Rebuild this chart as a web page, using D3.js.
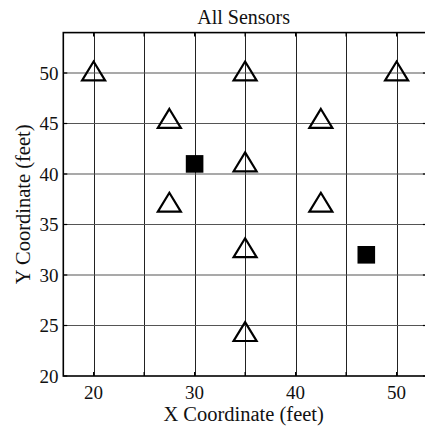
<!DOCTYPE html>
<html>
<head>
<meta charset="utf-8">
<script src="https://cdn.jsdelivr.net/npm/d3@7"></script>
<style>
  html, body { margin: 0; padding: 0; background: #fff; }
  svg { display: block; }
  text { font-family: "Liberation Serif", "DejaVu Serif", serif; fill: #111; }
</style>
</head>
<body>
<svg id="chart" width="425" height="433"></svg>
<script>
// ---- data ----
const triangleX = [20, 35, 50, 27.5, 42.5, 35, 27.5, 42.5, 35, 35];
const triangleY = [50, 50, 50, 45.3, 45.3, 41, 37, 37, 32.5, 24.2];
const squareX = [30, 47];
const squareY = [41, 32];
const xGridTicks = [20, 25, 30, 35, 40, 45, 50];
const xTickLabels = [20, 30, 40, 50];
const yTicks = [20, 25, 30, 35, 40, 45, 50];
const titleText = "All Sensors";
const xLabelText = "X Coordinate (feet)";
const yLabelText = "Y Coordinate (feet)";

// ---- layout ----
const svg = d3.select("#chart");
const pL = 63.3, pR = 426.9, pT = 32.6, pB = 376;
const x = d3.scaleLinear().domain([17, 53]).range([pL, pR]);
const y = d3.scaleLinear().domain([20, 54]).range([pB, pT]);

// grid
const grid = svg.append("g");
grid.selectAll("line.vg").data(xGridTicks).join("line")
  .attr("x1", d => Math.round(x(d)) + 0.5).attr("x2", d => Math.round(x(d)) + 0.5)
  .attr("y1", pT).attr("y2", pB)
  .attr("stroke", "#222").attr("stroke-width", 1);
grid.selectAll("line.hg").data(yTicks.filter(d => d > 20)).join("line")
  .attr("x1", pL).attr("x2", pR)
  .attr("y1", d => y(d)).attr("y2", d => y(d))
  .attr("stroke", "#555").attr("stroke-width", 1.2);

// frame
svg.append("rect")
  .attr("x", pL).attr("y", pT).attr("width", pR - pL).attr("height", pB - pT)
  .attr("fill", "none").attr("stroke", "#000").attr("stroke-width", 1.6);

// inward ticks
const tl = 4;
const ticks = svg.append("g").attr("stroke", "#000").attr("stroke-width", 1.2);
xGridTicks.forEach(d => {
  ticks.append("line").attr("x1", x(d)).attr("x2", x(d)).attr("y1", pB).attr("y2", pB - tl);
  ticks.append("line").attr("x1", x(d)).attr("x2", x(d)).attr("y1", pT).attr("y2", pT + tl);
});
yTicks.forEach(d => {
  ticks.append("line").attr("x1", pL).attr("x2", pL + tl).attr("y1", y(d)).attr("y2", y(d));
  ticks.append("line").attr("x1", pR).attr("x2", pR - tl).attr("y1", y(d)).attr("y2", y(d));
});

// tick labels
svg.append("g").selectAll("text").data(xTickLabels).join("text")
  .attr("x", d => x(d)).attr("y", 398.5)
  .attr("text-anchor", "middle").attr("font-size", 19)
  .text(d => d);
svg.append("g").selectAll("text").data(yTicks).join("text")
  .attr("x", 58.5).attr("y", d => y(d) + 6.5)
  .attr("text-anchor", "end").attr("font-size", 19)
  .text(d => d);

// titles
svg.append("text").attr("x", (pL + 424) / 2).attr("y", 24)
  .attr("text-anchor", "middle").attr("font-size", 20).text(titleText);
svg.append("text").attr("x", (pL + 424) / 2).attr("y", 421)
  .attr("text-anchor", "middle").attr("font-size", 20.5).text(xLabelText);
svg.append("text").attr("transform", `translate(30, ${(pT + pB) / 2}) rotate(-90)`)
  .attr("text-anchor", "middle").attr("font-size", 20.5).text(yLabelText);

// markers
const tri = d3.path();
tri.moveTo(0, -11.5); tri.lineTo(11.5, 7.4); tri.lineTo(-11.5, 7.4); tri.closePath();
const triData = triangleX.map((d, i) => [d, triangleY[i]]);
svg.append("g").selectAll("path").data(triData).join("path")
  .attr("d", tri.toString())
  .attr("transform", d => `translate(${x(d[0])},${y(d[1])})`)
  .attr("fill", "none").attr("stroke", "#000").attr("stroke-width", 2.2)
  .attr("stroke-linejoin", "miter");

const sq = 17.6;
const sqData = squareX.map((d, i) => [d, squareY[i]]);
svg.append("g").selectAll("rect").data(sqData).join("rect")
  .attr("x", d => x(d[0]) - sq / 2).attr("y", d => y(d[1]) - sq / 2)
  .attr("width", sq).attr("height", sq).attr("fill", "#000");
</script>
</body>
</html>
